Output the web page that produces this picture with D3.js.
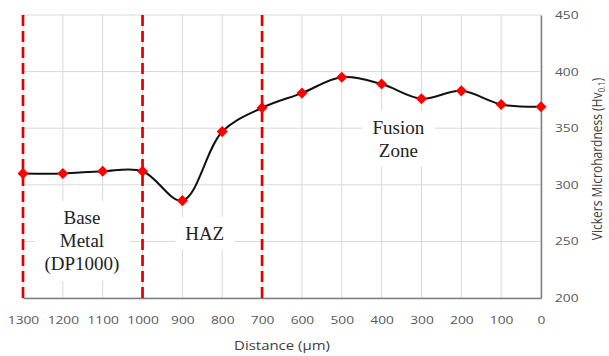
<!DOCTYPE html>
<html>
<head>
<meta charset="utf-8">
<script src="https://cdn.jsdelivr.net/npm/d3@7"></script>
<style>
  body { margin: 0; background: #fff; }
  svg { display: block; }
</style>
</head>
<body>
<svg id="chart" width="609" height="356"></svg>
<script>
// data
var distances = [1300, 1200, 1100, 1000, 900, 800, 700, 600, 500, 400, 300, 200, 100, 0];
var hardness = [310, 310, 312, 312, 286, 347, 368, 381, 395, 389, 376, 383, 371, 369];
var xTicks = [1300, 1200, 1100, 1000, 900, 800, 700, 600, 500, 400, 300, 200, 100, 0];
var yTicks = [200, 250, 300, 350, 400, 450];
var zoneBounds = [1300, 1000, 700];
var zoneLabels = [
  { lines: ["Base", "Metal", "(DP1000)"], at: [1152, 251] },
  { lines: ["HAZ"], at: [844, 257] },
  { lines: ["Fusion", "Zone"], at: [358, 341] }
];

var margin = { top: 15, right: 68, bottom: 58, left: 23 };
var width = 609 - margin.left - margin.right,
    height = 356 - margin.top - margin.bottom;

var svg = d3.select("#chart");
var g = svg.append("g").attr("transform", "translate(" + margin.left + "," + margin.top + ")");

var x = d3.scaleLinear().domain([1300, 0]).range([0, width]);
var y = d3.scaleLinear().domain([200, 450]).range([height, 0]);

// gridlines
g.append("g").selectAll("line.h")
  .data(yTicks).enter().append("line")
  .attr("x1", 0).attr("x2", width)
  .attr("y1", function(d) { return y(d); }).attr("y2", function(d) { return y(d); })
  .attr("stroke", "#d9d9d9").attr("stroke-width", 1);
g.append("g").selectAll("line.v")
  .data(xTicks).enter().append("line")
  .attr("x1", function(d) { return x(d); }).attr("x2", function(d) { return x(d); })
  .attr("y1", 0).attr("y2", height)
  .attr("stroke", "#d9d9d9").attr("stroke-width", 1);

// zone labels with white boxes
zoneLabels.forEach(function(z) {
  var lg = g.append("g");
  var t = lg.append("text")
    .attr("text-anchor", "middle")
    .style("font-family", "'Liberation Serif', 'Times New Roman', serif")
    .style("font-size", "19px")
    .attr("fill", "#222");
  var lh = 23;
  var y0 = y(z.at[1]) - (z.lines.length - 1) * lh / 2;
  z.lines.forEach(function(s, i) {
    t.append("tspan").attr("x", x(z.at[0])).attr("y", y0 + i * lh).attr("dy", "0.35em").text(s);
  });
  var bb = t.node().getBBox();
  lg.insert("rect", "text")
    .attr("x", bb.x - 10).attr("y", bb.y - 6)
    .attr("width", bb.width + 20).attr("height", bb.height + 12)
    .attr("fill", "#fff");
});

// axes
var xAxis = g.append("g")
  .attr("transform", "translate(0," + height + ")")
  .call(d3.axisBottom(x).tickValues(xTicks).tickSize(0).tickPadding(18).tickFormat(d3.format("d")));
xAxis.select(".domain").attr("stroke", "#7f7f7f").attr("stroke-width", 1.5);

var yAxis = g.append("g")
  .attr("transform", "translate(" + width + ",0)")
  .call(d3.axisRight(y).tickValues(yTicks).tickSize(0).tickPadding(0));
yAxis.select(".domain").attr("stroke", "#7f7f7f").attr("stroke-width", 1.5);

svg.selectAll(".tick text")
  .style("font-family", "'Open Sans', 'DejaVu Sans', sans-serif")
  .style("font-size", "11px")
  .attr("fill", "#595959");
xAxis.selectAll(".tick text").attr("transform", "scale(1.25,1)");
yAxis.selectAll(".tick text").attr("x", 0).attr("transform", "translate(14,0) scale(1.25,1)");

// dashed zone boundaries
g.selectAll("line.zone")
  .data(zoneBounds).enter().append("line")
  .attr("x1", function(d) { return x(d); }).attr("x2", function(d) { return x(d); })
  .attr("y1", 0).attr("y2", height)
  .attr("stroke", "#e00000").attr("stroke-width", 2.7)
  .attr("stroke-dasharray", "11,5");

// hardness curve
var line = d3.line()
  .x(function(d, i) { return x(distances[i]); })
  .y(function(d) { return y(d); })
  .curve(d3.curveCatmullRom.alpha(0.5));
g.append("path")
  .datum(hardness)
  .attr("d", line)
  .attr("fill", "none")
  .attr("stroke", "#111")
  .attr("stroke-width", 2);

g.selectAll("path.pt")
  .data(hardness).enter().append("path")
  .attr("d", d3.symbol().type(d3.symbolDiamond2).size(78))
  .attr("transform", function(d, i) { return "translate(" + x(distances[i]) + "," + y(d) + ")"; })
  .attr("fill", "#ff0000");

// axis titles
svg.append("text")
  .attr("transform", "translate(" + (margin.left + width / 2) + ",350) scale(1.15,1)")
  .attr("text-anchor", "middle")
  .style("font-family", "'Open Sans', 'DejaVu Sans', sans-serif")
  .style("font-size", "13px")
  .attr("fill", "#404040")
  .text("Distance (\u00b5m)");

var yt = svg.append("text")
  .attr("transform", "translate(602," + 159 + ") scale(1.15,1) rotate(-90)")
  .attr("text-anchor", "middle")
  .style("font-family", "'Open Sans', 'DejaVu Sans', sans-serif")
  .style("font-size", "12px")
  .attr("fill", "#404040");
yt.append("tspan").text("Vickers Microhardness (Hv");
yt.append("tspan").attr("dy", "3").style("font-size", "8px").text("0.1");
yt.append("tspan").attr("dy", "-3").text(")");
</script>
</body>
</html>
